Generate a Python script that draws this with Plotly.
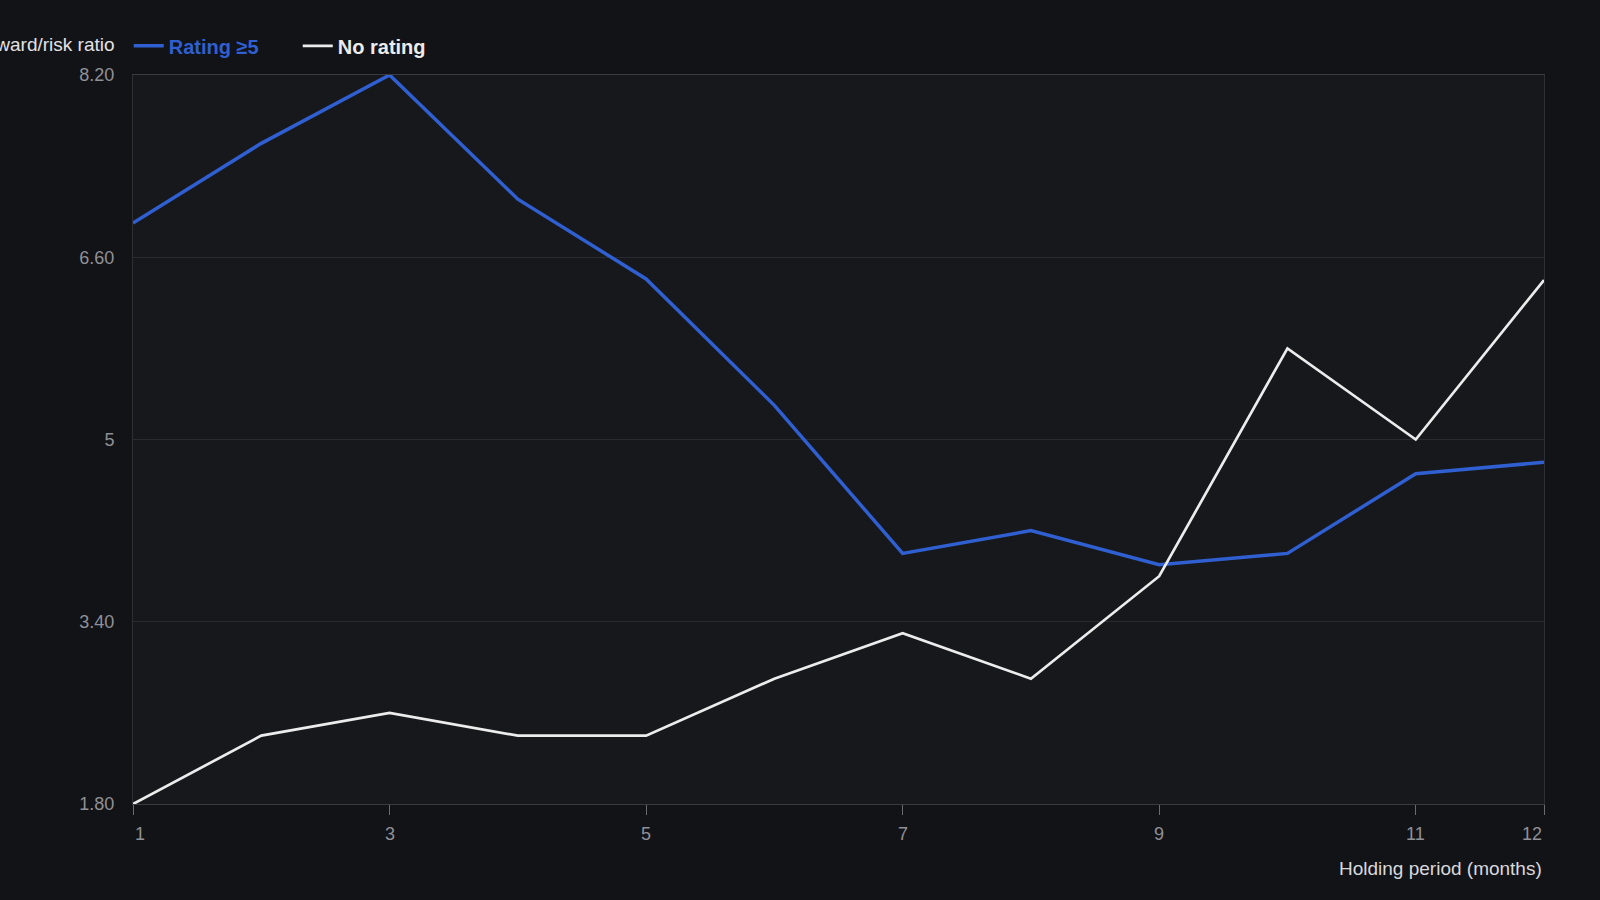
import plotly.graph_objects as go

# Holding period in months
months = [1, 2, 3, 4, 5, 6, 7, 8, 9, 10, 11, 12]

# Reward/risk ratio per holding period
rating_5_plus = [6.90, 7.60, 8.20, 7.11, 6.41, 5.30, 4.00, 4.20, 3.90, 4.00, 4.70, 4.80]
no_rating = [1.80, 2.40, 2.60, 2.40, 2.40, 2.90, 3.30, 2.90, 3.80, 5.80, 5.00, 6.40]

# Axis ticks
y_tickvals = [1.8, 3.4, 5.0, 6.6, 8.2]
y_ticktext = ["1.80", "3.40", "5", "6.60", "8.20"]
x_tickvals = [1, 3, 5, 7, 9, 11, 12]

BLUE = "#2f5fd0"
WHITE = "#ececec"
TICK_GREY = "#909096"
FONT = "Liberation Sans, Arial, sans-serif"

fig = go.Figure()

fig.add_trace(
    go.Scatter(
        x=months,
        y=rating_5_plus,
        mode="lines",
        name=f"<span style='color:{BLUE}'><b>Rating ≥5</b></span>",
        line=dict(color=BLUE, width=3.5),
    )
)
fig.add_trace(
    go.Scatter(
        x=months,
        y=no_rating,
        mode="lines",
        name=f"<span style='color:{WHITE}'><b>No rating</b></span>",
        line=dict(color=WHITE, width=2.7),
    )
)

# x tick labels as annotations so the end labels can hug the plot edges
for i, v in enumerate(x_tickvals):
    if i == 0:
        anchor = "left"
    elif i == len(x_tickvals) - 1:
        anchor = "right"
    else:
        anchor = "center"
    fig.add_annotation(
        x=v, y=0, xref="x", yref="paper",
        text=str(v), showarrow=False,
        xanchor=anchor, yanchor="top", yshift=-18,
        font=dict(size=18, color=TICK_GREY, family=FONT),
    )

# axis titles (the y title runs off the left edge, as in the source)
fig.add_annotation(
    x=1, y=0, xref="paper", yref="paper",
    text="Holding period (months)", showarrow=False,
    xanchor="right", yanchor="top", yshift=-52,
    font=dict(size=19, color="#d9d9dc", family=FONT),
)
fig.add_annotation(
    x=-0.011, y=1.042, xref="paper", yref="paper",
    text="Reward/risk ratio", showarrow=False,
    xanchor="right", yanchor="middle",
    font=dict(size=19, color="#e2e2e5", family=FONT),
)

fig.update_xaxes(
    range=[1, 12],
    tickvals=x_tickvals,
    showticklabels=False,
    ticks="outside",
    ticklen=10,
    tickcolor="#6a6a70",
    showgrid=False,
    showline=True,
    linecolor="#3a3b40",
    mirror=True,
    zeroline=False,
)
fig.update_yaxes(
    range=[1.8, 8.2],
    tickvals=y_tickvals,
    ticktext=y_ticktext,
    ticks="",
    ticklabelstandoff=14,
    tickfont=dict(size=18, color=TICK_GREY, family=FONT),
    showgrid=True,
    gridcolor="#2a2b30",
    gridwidth=1,
    showline=True,
    linecolor="#2e2f34",
    mirror=True,
    zeroline=False,
)

fig.update_layout(
    width=1600,
    height=900,
    margin=dict(l=133, r=56, t=75, b=96),
    paper_bgcolor="#121316",
    plot_bgcolor="#17181c",
    font=dict(family=FONT, color="#e2e2e5"),
    showlegend=True,
    legend=dict(
        orientation="h",
        x=-0.003,
        y=1.04,
        xanchor="left",
        yanchor="middle",
        bgcolor="rgba(0,0,0,0)",
        font=dict(size=20, family=FONT),
        entrywidth=124,
        entrywidthmode="pixels",
        itemwidth=30,
    ),
    hovermode=False,
)

fig.write_html(
    "out.html",
    config={"displayModeBar": False},
    post_script="document.body.style.margin='0';document.body.style.background='#121316';",
)
